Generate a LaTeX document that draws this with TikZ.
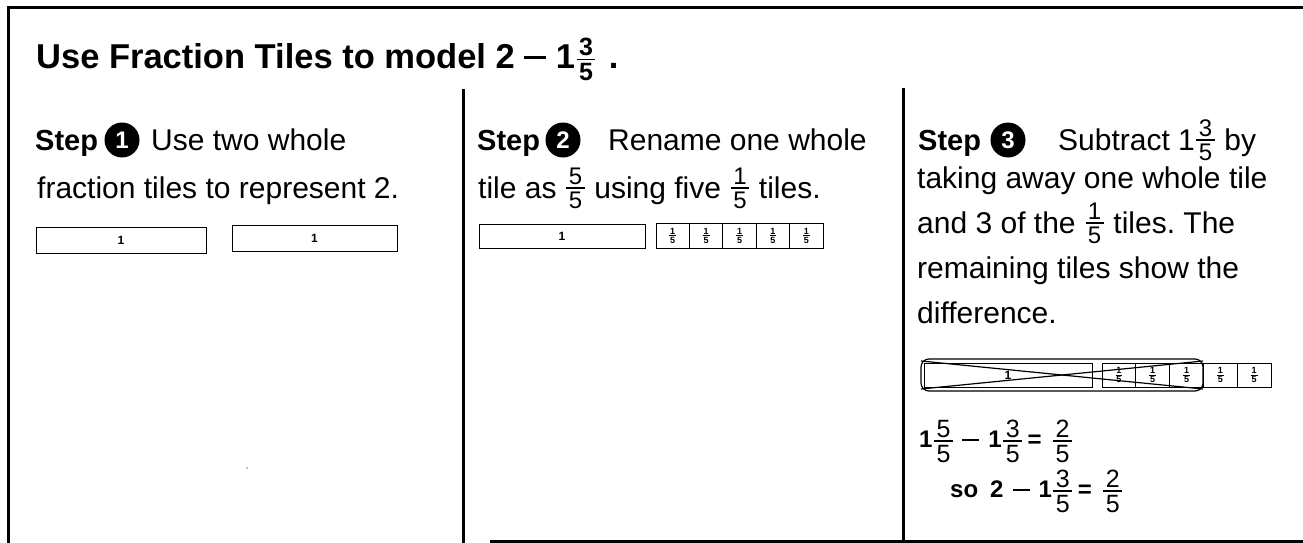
\documentclass[tikz,border=0pt]{standalone}
\usepackage{fontspec}
\setmainfont{Liberation Sans}
\usetikzlibrary{calc}
\frenchspacing

% stacked fraction: [#1 raise of the bar, percent of size] #2 digit size (pt), #3 numerator, #4 denominator
\newcommand{\fr}[4][38]{%
  \begingroup
  \setbox0\hbox{\fontsize{#2}{#2}\selectfont #3}%
  \setbox2\hbox{\fontsize{#2}{#2}\selectfont #4}%
  \dimen0=\wd0 \ifdim\wd2>\dimen0 \dimen0=\wd2 \fi
  \advance\dimen0 by \dimexpr #2pt*20/100\relax
  \dimen2=\dimexpr #2pt*7/100\relax
  \dimen4=\dimexpr #2pt*12/100\relax
  \kern1.5pt\raise\dimexpr #2pt*#1/100\relax\hbox{%
    \vbox{\hbox to\dimen0{\hfil\box0\hfil}\kern\dimen4\hrule height\dimen2 depth 0pt}%
    \kern-\dimen0
    \vtop{\kern\dimen4\hbox to\dimen0{\hfil\box2\hfil}}}\kern1.5pt
  \endgroup}
% fraction with regular-weight digits, used inside the bold result lines
\newcommand{\lfr}[3]{{\mdseries\fr[20]{#1}{#2}{#3}}}
% long minus sign: #1 length, #2 height above baseline, #3 thickness
\newcommand{\longminus}[3]{\rule[#2]{#1}{#3}}

\tikzset{
  x=1pt, y=-1pt,
  frame/.style={line width=3pt},
  divider/.style={line width=3pt},
  body/.style={inner sep=0pt, anchor=base west, font=\fontsize{30}{36}\selectfont},
  head/.style={inner sep=0pt, anchor=base west, font=\fontsize{29}{34}\selectfont\bfseries},
  title/.style={inner sep=0pt, anchor=base west, font=\fontsize{34.5}{40}\selectfont\bfseries},
  stepnum/.style={circle, fill=black, inner sep=0pt, minimum size=35pt, text=white,
    font=\fontsize{24}{24}\selectfont\bfseries},
  tile/.style={draw, line width=0.9pt, inner sep=0pt, font=\fontsize{12}{12}\selectfont\bfseries},
  fifth/.style={tile, font=\fontsize{9}{9}\selectfont\bfseries},
  eq/.style={inner sep=0pt, anchor=base west, font=\fontsize{24}{30}\selectfont\bfseries},
}

\begin{document}
\begin{tikzpicture}
\useasboundingbox (0,0) rectangle (1303,543);
\fill[white] (0,0) rectangle (1303,543);

% outer frame and column dividers
\draw[frame] (8,543) -- (8,8) -- (1303,8);
\draw[frame] (490,541) -- (1303,541);
\draw[divider] (463,89) -- (463,543);
\draw[divider] (903,88) -- (903,543);

% title
\node[title] (title) at (36,68)
  {Use Fraction Tiles to model 2\hspace{9pt}\longminus{22pt}{9pt}{3pt}\hspace{10pt}1\fr[30]{25}{3}{5}\hspace{12pt}.};

% ---- step 1
\node[head] (s1) at (35,150) {Step};
\node[stepnum] (n1) at (122,140) {1};
\node[body] (s1a) at (151,150) {Use two whole};
\node[body] (s1b) at (37,198) {fraction tiles to represent 2.};
\node[tile, minimum width=170pt, minimum height=26pt] (t1a) at (121,240) {1};
\node[tile, minimum width=165pt, minimum height=26pt] (t1b) at (314.5,238) {1};
\fill[gray] (247,468) circle (0.8);

% ---- step 2
\node[head] (s2) at (477,150) {Step};
\node[stepnum] (n2) at (563,140) {2};
\node[body] (s2a) at (608,150) {Rename one whole};
\node[body] (s2b) at (478,198) {tile as \fr{24}{5}{5} using five \fr{24}{1}{5} tiles.};
\node[tile, minimum width=166pt, minimum height=24pt] (t2w) at (562,236) {1};
\foreach \i in {0,...,4}{
  \node[fifth, minimum width=33.4pt, minimum height=25pt]
    (t2f\i) at ({656+33.4*\i+16.7},235.5) {\fr{9}{1}{5}};
}

% ---- step 3
\node[head] (s3) at (918,150) {Step};
\node[stepnum] (n3) at (1008,140) {3};
\node[body] (s3a) at (1058,150) {Subtract 1\fr{24}{3}{5} by};
\node[body] (s3b) at (917,188) {taking away one whole tile};
\node[body] (s3c) at (917,233) {and 3 of the \fr{24}{1}{5} tiles. The};
\node[body] (s3d) at (917,278) {remaining tiles show the};
\node[body] (s3e) at (917,323) {difference.};

\node[tile, minimum width=168pt, minimum height=24pt] (t3w) at (1008,375) {1};
\foreach \i in {0,...,4}{
  \node[fifth, minimum width=33.8pt, minimum height=24pt]
    (t3f\i) at ({1102+33.8*\i+16.9},375) {\fr{9}{1}{5}};
}
% tiles taken away: ring and cross
\coordinate (rtl) at (921,359);
\coordinate (rbr) at (1203,391);
\draw[line width=1.2pt, rounded corners=8pt] (rtl) rectangle (rbr);
\draw[line width=1.2pt] (rtl |- 0,361) -- (rbr |- 0,389);
\draw[line width=1.2pt] (rtl |- 0,389) -- (rbr |- 0,361);

% results
\node[eq] (e1) at (919,447)
  {1\lfr{25}{5}{5}\hspace{8pt}\longminus{17pt}{6pt}{2.2pt}\hspace{9pt}1\lfr{25}{3}{5}\hspace{4pt}=\hspace{10pt}\lfr{25}{2}{5}};
\node[eq] (e2) at (950,497)
  {so\hspace{12pt}2\hspace{9pt}\longminus{17pt}{6pt}{2.2pt}\hspace{9pt}1\lfr{25}{3}{5}\hspace{4pt}=\hspace{10pt}\lfr{25}{2}{5}};
\end{tikzpicture}
\end{document}
